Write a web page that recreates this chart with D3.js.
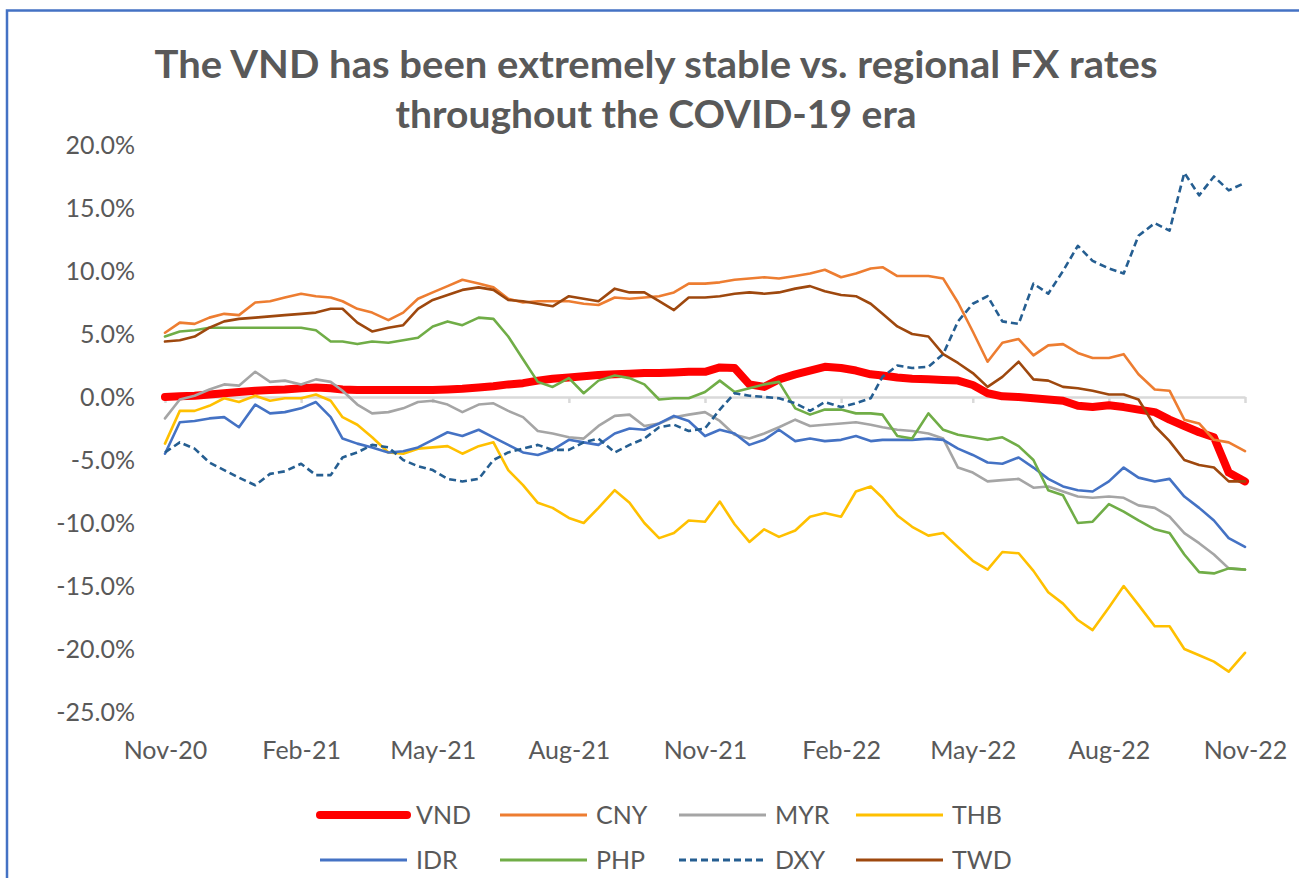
<!DOCTYPE html>
<html>
<head>
<meta charset="utf-8">
<script src="https://cdn.jsdelivr.net/npm/d3@7"></script>
<style>
  html, body { margin: 0; padding: 0; background: #ffffff; }
  svg { display: block; }
  text { font-family: Lato, "Open Sans", sans-serif; }
</style>
</head>
<body>
<svg id="chart" width="1299" height="878"></svg>
<script>
// ---------------- DATA ----------------
const dates = [
  "2020-11-01","2020-11-11","2020-11-21","2020-12-01","2020-12-11","2020-12-21",
  "2021-01-01","2021-01-11","2021-01-21","2021-02-01","2021-02-11","2021-02-21",
  "2021-03-01","2021-03-11","2021-03-21","2021-04-01","2021-04-11","2021-04-21",
  "2021-05-01","2021-05-11","2021-05-21","2021-06-01","2021-06-11","2021-06-21",
  "2021-07-01","2021-07-11","2021-07-21","2021-08-01","2021-08-11","2021-08-21",
  "2021-09-01","2021-09-11","2021-09-21","2021-10-01","2021-10-11","2021-10-21",
  "2021-11-01","2021-11-11","2021-11-21","2021-12-01","2021-12-11","2021-12-21",
  "2022-01-01","2022-01-11","2022-01-21","2022-02-01","2022-02-11","2022-02-21",
  "2022-03-01","2022-03-11","2022-03-21","2022-04-01","2022-04-11","2022-04-21",
  "2022-05-01","2022-05-11","2022-05-21","2022-06-01","2022-06-11","2022-06-21",
  "2022-07-01","2022-07-11","2022-07-21","2022-08-01","2022-08-11","2022-08-21",
  "2022-09-01","2022-09-11","2022-09-21","2022-10-01","2022-10-11","2022-10-21",
  "2022-11-01"
];

const VND = [0.0,0.05,0.1,0.2,0.3,0.4, 0.5,0.55,0.6,0.7,0.75,0.7, 0.6,0.55,0.55,0.55,0.55,0.55,
  0.55,0.6,0.65,0.75,0.85,1.0, 1.1,1.3,1.45,1.55,1.65,1.75, 1.8,1.85,1.9,1.9,1.95,2.0,
  2.0,2.35,2.3,1.0,0.8,1.4, 1.8,2.1,2.4,2.3,2.1,1.8, 1.7,1.55,1.45,1.4,1.35,1.3,
  0.95,0.3,0.05,0.0,-0.1,-0.2, -0.3,-0.7,-0.8,-0.65,-0.8,-1.0, -1.2,-1.8,-2.3,-2.8,-3.2,-6.0, -6.7];

const CNY = [5.1,5.9,5.8,6.3,6.6,6.5, 7.5,7.6,7.9,8.2,8.0,7.9, 7.6,7.0,6.7,6.1,6.7,7.8,
  8.3,8.8,9.3,9.0,8.7,7.8, 7.5,7.6,7.6,7.6,7.4,7.3, 7.9,7.8,7.9,8.0,8.3,9.0,
  9.0,9.1,9.3,9.4,9.5,9.4, 9.6,9.8,10.1,9.5,9.8,10.2, 10.3,9.6,9.6,9.6,9.4,7.5,
  5.2,2.8,4.3,4.6,3.3,4.1, 4.2,3.5,3.1,3.1,3.4,1.8, 0.6,0.5,-1.8,-2.1,-3.4,-3.6, -4.3];

const MYR = [-1.7,-0.2,0.1,0.6,1.0,0.9, 2.0,1.2,1.3,1.0,1.4,1.2, 0.5,-0.6,-1.3,-1.2,-0.9,-0.4,
  -0.3,-0.6,-1.2,-0.6,-0.5,-1.1, -1.6,-2.7,-2.9,-3.2,-3.3,-2.3, -1.5,-1.4,-2.3,-2.1,-1.6,-1.4,
  -1.2,-1.9,-3.0,-3.3,-2.9,-2.4, -1.8,-2.3,-2.2,-2.1,-2.0,-2.2, -2.4,-2.6,-2.7,-2.9,-3.3,-5.6,
  -6.0,-6.7,-6.6,-6.5,-7.2,-7.1, -7.5,-7.9,-8.0,-7.9,-8.0,-8.6, -8.8,-9.5,-10.8,-11.6,-12.5,-13.6, -13.7];

const THB = [-3.7,-1.1,-1.1,-0.7,-0.1,-0.4, 0.1,-0.3,-0.1,-0.1,0.2,-0.3, -1.6,-2.2,-3.2,-4.4,-4.5,-4.1,
  -4.0,-3.9,-4.5,-3.9,-3.6,-5.8, -7.0,-8.4,-8.8,-9.6,-10.0,-8.8, -7.4,-8.4,-10.0,-11.2,-10.8,-9.8,
  -9.9,-8.3,-10.1,-11.5,-10.5,-11.1, -10.6,-9.5,-9.2,-9.5,-7.5,-7.1, -8.0,-9.4,-10.3,-11.0,-10.8,-11.9,
  -13.0,-13.7,-12.3,-12.4,-13.8,-15.5, -16.4,-17.7,-18.5,-16.7,-15.0,-16.5, -18.2,-18.2,-20.0,-20.5,-21.0,-21.8, -20.3];

const IDR = [-4.5,-2.0,-1.9,-1.7,-1.6,-2.4, -0.6,-1.3,-1.2,-0.9,-0.4,-1.6, -3.3,-3.7,-4.0,-4.4,-4.3,-4.0,
  -3.4,-2.8,-3.1,-2.6,-3.2,-3.8, -4.4,-4.6,-4.2,-3.4,-3.6,-3.8, -2.9,-2.5,-2.6,-2.1,-1.5,-1.9,
  -3.1,-2.6,-2.9,-3.8,-3.4,-2.6, -3.5,-3.3,-3.5,-3.4,-3.1,-3.5, -3.4,-3.4,-3.4,-3.3,-3.4,-4.1,
  -4.6,-5.2,-5.3,-4.8,-5.6,-6.5, -7.1,-7.4,-7.5,-6.7,-5.6,-6.4, -6.7,-6.5,-7.9,-8.8,-9.8,-11.2, -11.9];

const PHP = [4.8,5.2,5.3,5.5,5.5,5.5, 5.5,5.5,5.5,5.5,5.3,4.4, 4.4,4.2,4.4,4.3,4.5,4.7,
  5.6,6.0,5.7,6.3,6.2,4.8, 3.0,1.2,0.8,1.5,0.3,1.3, 1.7,1.5,1.0,-0.2,-0.1,-0.1,
  0.4,1.3,0.4,0.7,1.0,1.2, -0.9,-1.4,-1.0,-1.0,-1.3,-1.3, -1.4,-3.1,-3.3,-1.3,-2.6,-3.0,
  -3.2,-3.4,-3.2,-3.9,-5.0,-7.4, -7.8,-10.0,-9.9,-8.5,-9.1,-9.8, -10.5,-10.8,-12.5,-13.9,-14.0,-13.6, -13.7];

const DXY = [-4.4,-3.6,-4.1,-5.2,-5.8,-6.4, -7.0,-6.1,-5.9,-5.3,-6.2,-6.2, -4.8,-4.4,-3.8,-4.0,-5.0,-5.5,
  -5.8,-6.5,-6.7,-6.5,-5.0,-4.4, -4.1,-3.8,-4.2,-4.2,-3.6,-3.3, -4.4,-3.8,-3.3,-2.4,-2.2,-2.7,
  -2.5,-1.0,0.3,0.1,0.0,-0.1, -0.5,-1.1,-0.4,-0.8,-0.5,-0.1, 1.6,2.5,2.3,2.4,3.4,6.0,
  7.4,8.0,6.0,5.8,9.0,8.2, 10.0,12.0,10.8,10.2,9.8,12.8, 13.8,13.2,17.8,16.0,17.5,16.4, 17.0];

const TWD = [4.4,4.5,4.8,5.5,6.0,6.2, 6.3,6.4,6.5,6.6,6.7,7.0, 7.0,5.9,5.2,5.5,5.7,7.0,
  7.7,8.1,8.5,8.7,8.5,7.7, 7.6,7.4,7.2,8.0,7.8,7.6, 8.6,8.3,8.3,7.6,6.9,7.9,
  7.9,8.0,8.2,8.3,8.2,8.3, 8.6,8.8,8.4,8.1,8.0,7.4, 6.6,5.6,5.0,4.8,3.4,2.7,
  1.9,0.8,1.6,2.8,1.4,1.3, 0.8,0.7,0.5,0.2,0.2,-0.2, -2.3,-3.5,-5.0,-5.4,-5.6,-6.7, -6.7];

const seriesNames = ["VND","CNY","MYR","THB","IDR","PHP","DXY","TWD"];
const seriesValues = [VND, CNY, MYR, THB, IDR, PHP, DXY, TWD];
const seriesColors = ["#ff0000","#ed7d31","#a5a5a5","#ffc000","#4472c4","#70ad47","#255e91","#9e480e"];

const yTicks = [-25,-20,-15,-10,-5,0,5,10,15,20];
const xTickDates = ["2020-11-01","2021-02-01","2021-05-01","2021-08-01","2021-11-01",
                    "2022-02-01","2022-05-01","2022-08-01","2022-11-01"];
const titleLines = ["The VND has been extremely stable vs. regional FX rates",
                    "throughout the COVID-19 era"];

// ---------------- CHART ----------------
const parse = d3.utcParse("%Y-%m-%d");
const svg = d3.select("#chart");

// frame (blue top & left edges)
svg.append("rect").attr("x", 7).attr("y", 10.5).attr("width", 1400).attr("height", 1000)
  .attr("fill", "none").attr("stroke", "#4472c4").attr("stroke-width", 2.5);

const x = d3.scaleUtc().domain([parse("2020-11-01"), parse("2022-11-01")]).range([165, 1245]);
const y = d3.scaleLinear().domain([-25, 20]).range([712, 145]);

// title
const titleG = svg.append("g").attr("font-weight", "bold").attr("fill", "#595959")
  .attr("font-size", 38).attr("text-anchor", "middle");
const titleLens = [1003, 521];
const titleBase = [78, 128];
titleLines.forEach((t, i) => {
  titleG.append("text").attr("x", 656).attr("y", titleBase[i])
    .attr("textLength", titleLens[i]).attr("lengthAdjust", "spacingAndGlyphs").text(t);
});

// y axis labels
const yAxis = d3.axisLeft(y).tickValues(yTicks).tickSize(0).tickPadding(30)
  .tickFormat(d => d.toFixed(1) + "%");
const yg = svg.append("g").attr("transform", "translate(165,0)").call(yAxis);
yg.select(".domain").remove();
yg.selectAll("text").attr("font-size", 25).attr("fill", "#595959")
  .style("font-family", "Lato, 'Open Sans', sans-serif");

// x axis line at zero with tick marks
const xTicks = xTickDates.map(parse);
const xAxisLine = d3.axisBottom(x).tickValues(xTicks).tickSize(6).tickSizeOuter(0).tickFormat("");
const xg = svg.append("g").attr("transform", `translate(0,${y(0)})`).call(xAxisLine);
xg.select(".domain").attr("stroke", "#d9d9d9").attr("stroke-width", 2.5);
xg.selectAll(".tick line").attr("stroke", "#d9d9d9").attr("stroke-width", 2.5);

// x axis labels (low position)
const xAxisLab = d3.axisBottom(x).tickValues(xTicks).tickSize(0).tickPadding(29)
  .tickFormat(d3.utcFormat("%b-%y"));
const xl = svg.append("g").attr("transform", "translate(0,712)").call(xAxisLab);
xl.select(".domain").remove();
xl.selectAll("text").attr("font-size", 25).attr("fill", "#595959")
  .style("font-family", "Lato, 'Open Sans', sans-serif");

// lines
const dateObjs = dates.map(parse);
const line = d3.line().x((d, i) => x(dateObjs[i])).y(d => y(d));
const lineG = svg.append("g").attr("fill", "none")
  .attr("stroke-linejoin", "round").attr("stroke-linecap", "round");
seriesNames.forEach((name, k) => {
  const p = lineG.append("path").datum(seriesValues[k]).attr("d", line)
    .attr("stroke", seriesColors[k])
    .attr("stroke-width", name === "VND" ? 8 : 2.6);
  if (name === "DXY") p.attr("stroke-dasharray", "7,4").attr("stroke-linecap", "butt");
});

// legend
const legCols = [320, 500, 679, 856];
const legRows = [815, 860];
const leg = svg.append("g");
seriesNames.forEach((name, k) => {
  const cx = legCols[k % 4], cy = legRows[Math.floor(k / 4)];
  const l = leg.append("line").attr("x1", cx).attr("x2", cx + 87).attr("y1", cy).attr("y2", cy)
    .attr("stroke", seriesColors[k]).attr("stroke-width", name === "VND" ? 8 : 3)
    .attr("stroke-linecap", name === "VND" ? "round" : "butt");
  if (name === "DXY") l.attr("stroke-dasharray", "7,4");
  leg.append("text").attr("x", cx + 96).attr("y", cy).attr("dy", "0.36em")
    .attr("font-size", 25).attr("fill", "#595959").text(name);
});
</script>
</body>
</html>
